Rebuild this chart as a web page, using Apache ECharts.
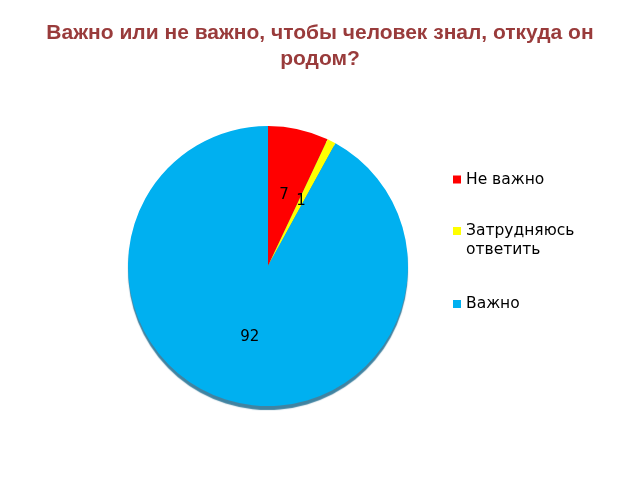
<!DOCTYPE html>
<html>
<head>
<meta charset="utf-8">
<script src="https://cdn.jsdelivr.net/npm/echarts@6/dist/echarts.min.js"></script>
<style>html,body{margin:0;padding:0;background:#fff}#c{width:640px;height:480px}</style>
</head>
<body>
<div id="c"></div>
<script>
const titleText = 'Важно или не важно, чтобы человек знал, откуда он\nродом?';
const categories = ['Не важно', 'Затрудняюсь\nответить', 'Важно'];
const values = [7, 1, 92];
const colors = ['#FF0000', '#FFFF00', '#00B0F0'];

const chart = echarts.init(document.getElementById('c'));
const legendBase = {
  orient: 'vertical', left: 453, padding: 0,
  itemWidth: 8, itemHeight: 8, icon: 'rect',
  selectedMode: false,
  textStyle: { fontFamily: 'DejaVu Sans', fontSize: 15.5, color: '#000', lineHeight: 19 }
};
chart.setOption({
  animation: false,
  color: colors,
  title: {
    text: titleText, left: 'center', top: 15,
    textStyle: { fontFamily: 'Liberation Sans', fontWeight: 'bold', fontSize: 21, color: '#993B3B', lineHeight: 26 }
  },
  legend: [
    Object.assign({}, legendBase, { top: 170, data: [categories[0]] }),
    Object.assign({}, legendBase, { top: 202.5, data: [categories[1]], formatter: n => ' \n' + n }),
    Object.assign({}, legendBase, { top: 294.5, data: [categories[2]] })
  ],
  series: [{
    type: 'pie',
    center: [268, 266],
    radius: 140,
    startAngle: 90,
    clockwise: true,
    label: { show: true, position: 'inside', formatter: '{c}', fontFamily: 'DejaVu Sans', fontSize: 15, color: '#000' },
    labelLine: { show: false },
    itemStyle: { borderWidth: 0, shadowColor: 'rgba(0,90,130,0.75)', shadowOffsetY: 4, shadowBlur: 1 },
    emphasis: { disabled: true },
    data: categories.map((n, i) => ({ name: n, value: values[i] }))
  }]
});
</script>
</body>
</html>
